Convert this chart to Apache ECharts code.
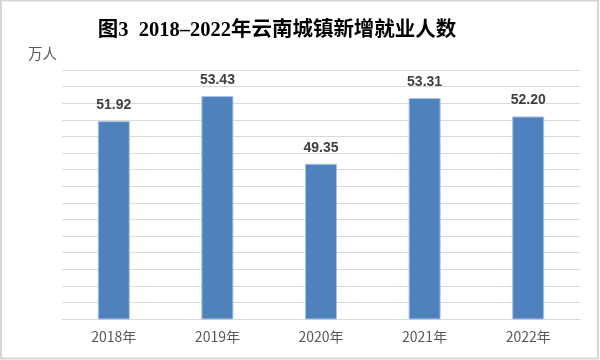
<!DOCTYPE html>
<html><head><meta charset="utf-8">
<script src="https://cdn.jsdelivr.net/npm/echarts@6/dist/echarts.min.js"></script>
<style>html,body{margin:0;padding:0;background:#fff}#c{width:600px;height:360px}</style>
</head><body><div id="c"></div>
<script>
const categories = ['2018年','2019年','2020年','2021年','2022年'];
const values = [51.92, 53.43, 49.35, 53.31, 52.20];
const titleText = '图3  2018–2022年云南城镇新增就业人数';
const unitText = '万人';

const chart = echarts.init(document.getElementById('c'));
chart.setOption({
  animation: false,
  backgroundColor: '#fff',
  title: {
    text: titleText, left: 272, top: 15, textAlign: 'center',
    textStyle: {fontFamily: '"Liberation Serif","Noto Sans CJK SC",serif', fontWeight: 'bold', fontSize: 20.5, color: '#000'}
  },
  graphic: [
    {type: 'rect', shape: {x: 1, y: 0.5, width: 597, height: 358}, style: {fill: 'none', stroke: '#d6d6d6', lineWidth: 2}, silent: true},
    {type: 'text', left: 28, top: 46, style: {text: unitText, fontSize: 14.5, fill: '#595959', fontFamily: '"Noto Sans CJK SC",sans-serif'}}
  ],
  grid: {left: 62, right: 20, top: 70, bottom: 41},
  xAxis: {
    type: 'category', data: categories,
    axisLine: {show: true, lineStyle: {color: '#d9d9d9', width: 1}},
    axisTick: {show: false},
    axisLabel: {color: '#595959', fontSize: 14, margin: 11, fontFamily: '"Noto Sans CJK SC",sans-serif'}
  },
  yAxis: {
    type: 'value', min: 40, max: 55, interval: 1,
    axisLine: {show: false}, axisTick: {show: false}, axisLabel: {show: false},
    splitLine: {lineStyle: {color: '#d9d9d9', width: 1}}
  },
  series: [{
    type: 'bar', data: values, barWidth: 32,
    itemStyle: {color: '#4f81bd', borderColor: '#a9c2e3', borderWidth: 1},
    label: {show: true, position: 'top', distance: 9, color: '#404040', fontWeight: 'bold', fontSize: 14,
      fontFamily: '"Liberation Sans",Arial,sans-serif',
      formatter: p => p.value.toFixed(2)}
  }]
});
</script></body></html>
